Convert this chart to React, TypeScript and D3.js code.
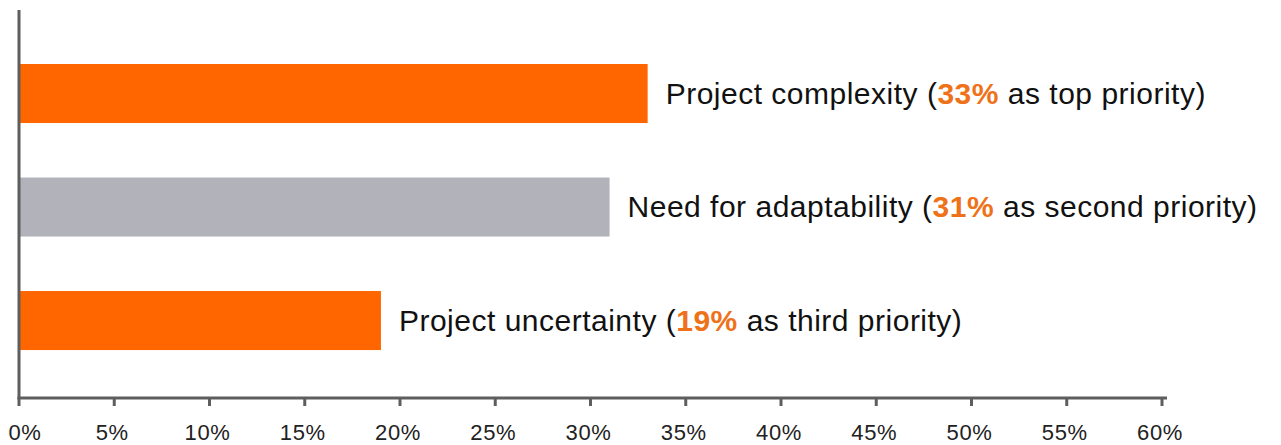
import React from "react";
import * as d3 from "d3";

const categories = ["Project complexity", "Need for adaptability", "Project uncertainty"];
const values = [33, 31, 19];
const priorities = ["top", "second", "third"];
const barColors = ["#FF6600", "#B2B2BB", "#FF6600"];
const tickValues = [0, 5, 10, 15, 20, 25, 30, 35, 40, 45, 50, 55, 60];
const tickLabels = tickValues.map((v) => `${v}%`);

const W = 1281;
const H = 445;
const axisColor = "#5E5E5E";

export default function App() {
  const x = d3.scaleLinear().domain([0, 60]).range([19, 1162]);
  const y = d3
    .scaleBand<string>()
    .domain(categories)
    .range([7.25, 406.8])
    .paddingInner(0.48)
    .paddingOuter(0.5);
  const font = "'Liberation Sans', Arial, sans-serif";
  return (
    <svg
      width={W}
      height={H}
      style={{ position: "absolute", left: 0, top: 0, background: "#fff" }}
    >
      {categories.map((c, i) => (
        <g key={c}>
          <rect
            x={x(0)}
            y={y(c)}
            width={x(values[i]) - x(0)}
            height={y.bandwidth()}
            fill={barColors[i]}
          />
          <text
            x={x(values[i]) + 18}
            y={(y(c) as number) + y.bandwidth() / 2 + 10}
            fontFamily={font}
            fontSize={30}
            letterSpacing={0.5}
            fill="#111"
          >
            {c} (
            <tspan fill="#EE7219" fontWeight="bold">
              {values[i]}%
            </tspan>{" "}
            as {priorities[i]} priority)
          </text>
        </g>
      ))}
      <line x1={x(0)} x2={x(0)} y1={10} y2={399} stroke={axisColor} strokeWidth={3} />
      <line x1={x(0) - 1.5} x2={1167} y1={398} y2={398} stroke={axisColor} strokeWidth={3} />
      {tickValues.map((v, i) => (
        <g key={v}>
          <line x1={x(v)} x2={x(v)} y1={398} y2={406} stroke={axisColor} strokeWidth={3} />
          <text
            x={x(v) + (i === 0 ? 6 : -2)}
            y={440}
            textAnchor="middle"
            fontFamily={font}
            fontSize={22}
            letterSpacing={0.6}
            fill="#222"
          >
            {tickLabels[i]}
          </text>
        </g>
      ))}
    </svg>
  );
}
